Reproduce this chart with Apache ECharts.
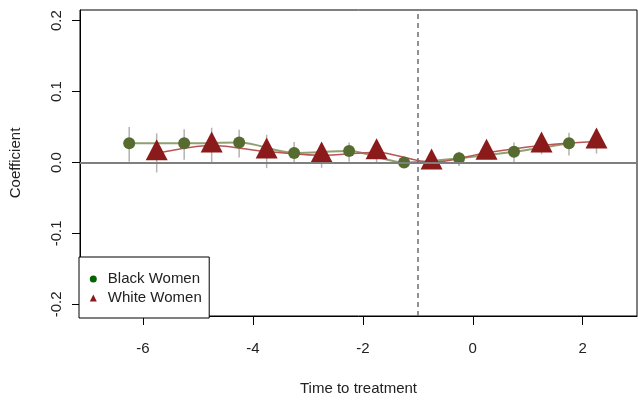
<!DOCTYPE html>
<html><head><meta charset="utf-8">
<script src="https://cdn.jsdelivr.net/npm/echarts@6/dist/echarts.min.js"></script>
<style>html,body{margin:0;padding:0;background:#fff}#c{width:638px;height:401px}</style>
</head><body><div id="c"></div>
<script>
// ---- data ----
const blackX  = [-6.25, -5.25, -4.25, -3.25, -2.25, -1.25, -0.25, 0.75, 1.75];
const blackY  = [0.027, 0.027, 0.028, 0.0135, 0.0163, 0.0, 0.006, 0.015, 0.027];
const blackLo = [0.001, 0.004, 0.007, -0.002, 0.001, -0.004, -0.005, 0.0, 0.010];
const blackHi = [0.050, 0.047, 0.046, 0.029, 0.028, 0.004, 0.015, 0.028, 0.042];

const whiteX  = [-5.75, -4.75, -3.75, -2.75, -1.75, -0.75, 0.25, 1.25, 2.25];
const whiteY  = [0.013, 0.024, 0.0155, 0.010, 0.0145, 0.0, 0.0137, 0.024, 0.0295];
const whiteLo = [-0.014, -0.002, -0.008, -0.0075, -0.002, -0.005, 0.005, 0.0116, 0.0126];
const whiteHi = [0.041, 0.049, 0.039, 0.028, 0.027, 0.005, 0.024, 0.036, 0.046];

const xTicks = [-6, -4, -2, 0, 2];
const yTicks = [-0.2, -0.1, 0.0, 0.1, 0.2];
const treatmentLine = -1;

// ---- chart ----
const FONT = "'Liberation Sans',Arial,sans-serif";
const FS = 15;
const TXT = '#222';
const chart = echarts.init(document.getElementById('c'), null, {renderer: 'canvas'});

function errSeries(id, xs, lo, hi, extra) {
  return Object.assign({
    type: 'custom', id: id, silent: true, z: 1,
    data: xs.map((x, i) => [x, lo[i], hi[i]]),
    encode: {x: 0, y: [1, 2]},
    renderItem: function (params, api) {
      const p1 = api.coord([api.value(0), api.value(1)]);
      const p2 = api.coord([api.value(0), api.value(2)]);
      return {type: 'line', shape: {x1: p1[0], y1: p1[1], x2: p2[0], y2: p2[1]},
              style: {stroke: '#b3b3b3', lineWidth: 1.5}};
    }
  }, extra || {});
}

const option = {
  animation: false,
  grid: {left: 79, right: 1, top: 10, bottom: 83, show: true, borderColor: '#000', borderWidth: 1},
  xAxis: {
    type: 'value', min: -7.145, max: 2.987,
    axisLine: {show: true, onZero: false, lineStyle: {color: '#000', width: 1}},
    axisTick: {show: true, length: 9, customValues: xTicks, lineStyle: {color: '#000'}},
    axisLabel: {customValues: xTicks, margin: 25, fontFamily: FONT, fontSize: FS, color: TXT,
                formatter: v => String(v)},
    splitLine: {show: false},
    name: 'Time to treatment', nameLocation: 'middle', nameGap: 65,
    nameTextStyle: {fontFamily: FONT, fontSize: FS, color: TXT}
  },
  yAxis: {
    type: 'value', min: -0.2165, max: 0.215,
    axisLine: {show: true, onZero: false, lineStyle: {color: '#000', width: 1}},
    axisTick: {show: true, length: 8, customValues: yTicks, lineStyle: {color: '#000'}},
    axisLabel: {customValues: yTicks, rotate: 90, margin: 16, fontFamily: FONT, fontSize: FS, color: TXT,
                formatter: v => v.toFixed(1)},
    splitLine: {show: false},
    name: 'Coefficient', nameLocation: 'middle', nameGap: 57, nameRotate: 90,
    nameTextStyle: {fontFamily: FONT, fontSize: FS, color: TXT}
  },
  legend: {
    orient: 'vertical', left: 79, top: 257, padding: [14.5, 7.5, 12.5, 10.8],
    itemWidth: 7, itemHeight: 7, itemGap: 4,
    borderColor: '#000', borderWidth: 1, backgroundColor: '#fff', borderRadius: 0,
    selectedMode: false,
    textStyle: {fontFamily: FONT, fontSize: FS, color: TXT, lineHeight: 15, padding: [0, 0, 0, 6]},
    data: [
      {name: 'Black Women', icon: 'circle', itemStyle: {color: '#006400'}},
      {name: 'White Women', icon: 'triangle', itemStyle: {color: '#8B1A1A'}}
    ]
  },
  series: [
    errSeries('blackErr', blackX, blackLo, blackHi, {
      markLine: {
        silent: true, symbol: 'none', label: {show: false},
        data: [
          {yAxis: 0, lineStyle: {color: '#7f7f7f', width: 2, type: 'solid'}},
          {xAxis: treatmentLine, lineStyle: {color: '#6e6e6e', width: 1.5, type: [5, 4]}}
        ]
      }
    }),
    errSeries('whiteErr', whiteX, whiteLo, whiteHi),
    {
      name: 'Black Women', type: 'line', z: 3,
      data: blackX.map((x, i) => [x, blackY[i]]),
      smooth: 0.3, symbol: 'circle', symbolSize: 12, showSymbol: true,
      itemStyle: {color: '#556B2F'},
      lineStyle: {color: '#90A070', width: 2}
    },
    {
      name: 'White Women', type: 'line', z: 3,
      data: whiteX.map((x, i) => [x, whiteY[i]]),
      smooth: 0.3, symbol: 'triangle', symbolSize: [22, 21], symbolOffset: [0, -3.5], showSymbol: true,
      itemStyle: {color: '#8B1A1A'},
      lineStyle: {color: '#B85555', width: 1.5}
    }
  ]
};
chart.setOption(option);
</script>
</body></html>
